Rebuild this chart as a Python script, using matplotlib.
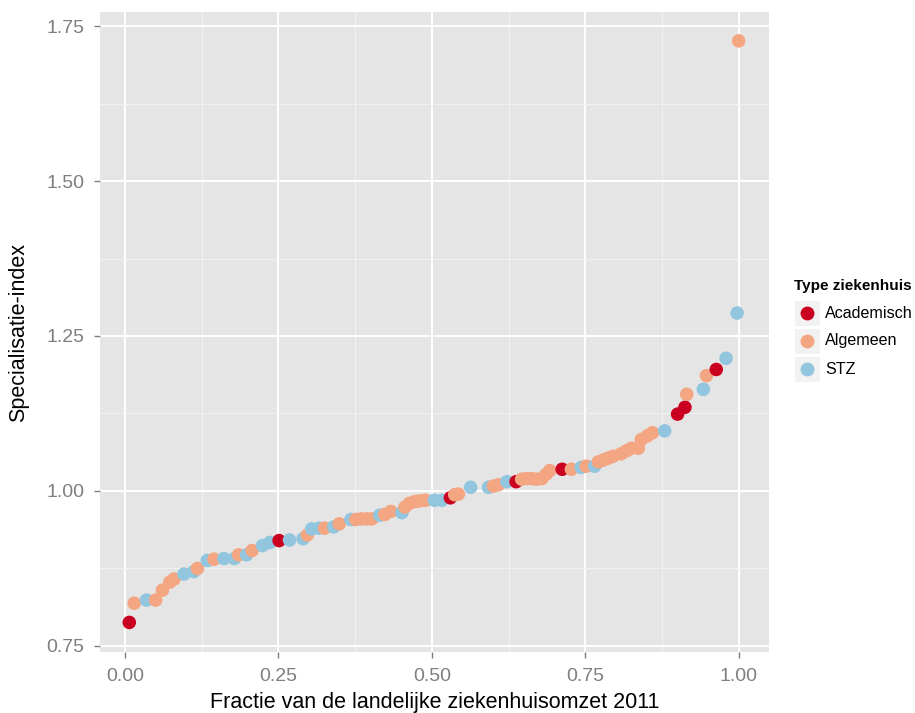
import matplotlib
matplotlib.use("Agg")
import matplotlib.pyplot as plt
from matplotlib.patches import Rectangle
from matplotlib.lines import Line2D
import numpy as np

plt.rcParams['font.family'] = ['Liberation Sans', 'DejaVu Sans']

# cumulative share of national hospital revenue vs specialisation index
fractie = [0.007, 0.015, 0.035, 0.050, 0.061, 0.073, 0.080, 0.096, 0.112, 0.118,
           0.134, 0.145, 0.161, 0.178, 0.185, 0.198, 0.207, 0.224, 0.236, 0.251,
           0.268, 0.290, 0.297, 0.304, 0.316, 0.325, 0.340, 0.349, 0.368, 0.376,
           0.385, 0.394, 0.402, 0.415, 0.423, 0.433, 0.451, 0.456, 0.463, 0.472,
           0.480, 0.489, 0.504, 0.516, 0.530, 0.537, 0.543, 0.563, 0.592, 0.600,
           0.608, 0.622, 0.637, 0.646, 0.654, 0.662, 0.670, 0.679, 0.686, 0.692,
           0.712, 0.727, 0.743, 0.751, 0.765, 0.771, 0.779, 0.787, 0.795, 0.808,
           0.817, 0.825, 0.836, 0.841, 0.851, 0.859, 0.879, 0.900, 0.912, 0.915,
           0.942, 0.947, 0.963, 0.979, 0.997, 0.9995]
index = [0.788, 0.819, 0.824, 0.824, 0.840, 0.853, 0.858, 0.866, 0.870, 0.875,
         0.888, 0.890, 0.891, 0.891, 0.897, 0.897, 0.904, 0.912, 0.917, 0.920,
         0.921, 0.923, 0.929, 0.939, 0.940, 0.940, 0.942, 0.947, 0.954, 0.954,
         0.955, 0.955, 0.955, 0.961, 0.962, 0.967, 0.965, 0.974, 0.980, 0.983,
         0.984, 0.985, 0.985, 0.985, 0.989, 0.994, 0.995, 1.006, 1.006, 1.008,
         1.010, 1.015, 1.015, 1.019, 1.020, 1.020, 1.019, 1.020, 1.027, 1.033,
         1.035, 1.035, 1.038, 1.040, 1.040, 1.047, 1.050, 1.053, 1.056, 1.060,
         1.065, 1.069, 1.069, 1.083, 1.089, 1.094, 1.097, 1.124, 1.135, 1.156,
         1.164, 1.186, 1.196, 1.214, 1.287, 1.726]
soort = ['A', 'G', 'S', 'G', 'G', 'G', 'G', 'S', 'S', 'G',
         'S', 'G', 'S', 'S', 'G', 'S', 'G', 'S', 'S', 'A',
         'S', 'S', 'G', 'S', 'S', 'G', 'S', 'G', 'S', 'G',
         'G', 'G', 'G', 'S', 'G', 'G', 'S', 'G', 'G', 'G',
         'G', 'G', 'S', 'S', 'A', 'G', 'G', 'S', 'S', 'G',
         'G', 'S', 'A', 'G', 'G', 'G', 'G', 'G', 'G', 'G',
         'A', 'G', 'S', 'G', 'S', 'G', 'G', 'G', 'G', 'G',
         'G', 'G', 'G', 'G', 'G', 'G', 'S', 'A', 'A', 'G',
         'S', 'G', 'A', 'S', 'S', 'G']

types = ['A', 'G', 'S']
type_names = ['Academisch', 'Algemeen', 'STZ']
type_colors = ['#CA0020', '#F4A582', '#92C5DE']
cmap = dict(zip(types, type_colors))

xticks = [0.00, 0.25, 0.50, 0.75, 1.00]
yticks = [0.75, 1.00, 1.25, 1.50, 1.75]

fig = plt.figure(figsize=(9.15, 7.13), dpi=100)
ax = fig.add_axes([100/915, 61/713, 669/915, 640/713])
ax.set_facecolor('#E5E5E5')

ax.scatter(fractie, index, c=[cmap[s] for s in soort], s=95, linewidths=0, zorder=3)

ax.set_xlim(-0.0407, 1.0489)
ax.set_ylim(0.7403, 1.7726)
ax.set_xticks(xticks)
ax.set_xticklabels([f'{v:.2f}' for v in xticks])
ax.set_yticks(yticks)
ax.set_yticklabels([f'{v:.2f}' for v in yticks])
ax.set_xticks([0.125, 0.375, 0.625, 0.875], minor=True)
ax.set_yticks([0.875, 1.125, 1.375, 1.625], minor=True)

ax.grid(which='major', color='white', linewidth=1.4, zorder=1)
ax.grid(which='minor', color='#F2F2F2', linewidth=0.7, zorder=1)
ax.set_axisbelow(True)
for sp in ax.spines.values():
    sp.set_visible(False)
ax.tick_params(which='major', length=4.5, width=1, color='#7F7F7F',
               labelcolor='#7F7F7F', labelsize=14, pad=7)
ax.tick_params(which='minor', length=0)

ax.set_xlabel('Fractie van de landelijke ziekenhuisomzet 2011', fontsize=15.5, labelpad=5)
ax.set_ylabel('Specialisatie-index', fontsize=15.5, labelpad=12)

# legend drawn by hand so the keys get the grey ggplot background
fig.text(794/915, 1 - 286/713, 'Type ziekenhuis', fontsize=11, fontweight='bold',
         va='center', ha='left')
for i, (name, col) in enumerate(zip(type_names, type_colors)):
    yc = 313 + 28 * i
    fig.add_artist(Rectangle((794/915, 1 - (yc + 13)/713), 26/915, 26/713,
                             transform=fig.transFigure, facecolor='#F2F2F2',
                             edgecolor='white', linewidth=0.8))
    fig.add_artist(Line2D([807/915], [1 - yc/713], marker='o', markersize=10,
                          markeredgewidth=0, color=col, transform=fig.transFigure))
    fig.text(825/915, 1 - yc/713, name, fontsize=11.6, va='center', ha='left')

fig.savefig('out.png', dpi=100)
